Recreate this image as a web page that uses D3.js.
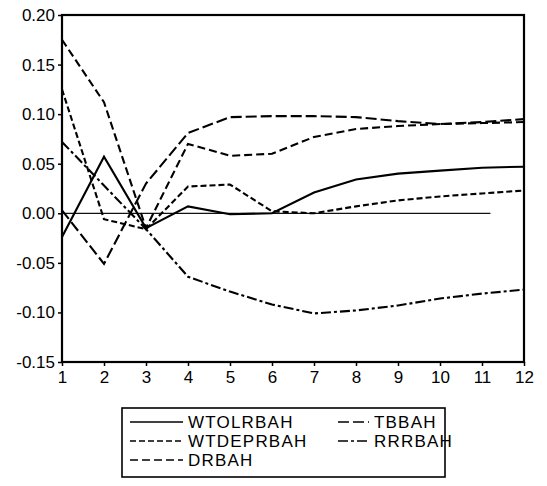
<!DOCTYPE html>
<html>
<head>
<meta charset="utf-8">
<script src="https://cdn.jsdelivr.net/npm/d3@7"></script>
<style>
    body { margin: 0; background: #fff; }
    svg { display: block; }
    .axis text { font-family: "Liberation Sans", Arial, sans-serif; font-size: 17px; fill: #000; }
    .axis path, .axis line { stroke: #000; stroke-width: 1.5; }
</style>
</head>
<body>
<div id="chart"></div>
<script>
// periods on the x axis
const periods = [1, 2, 3, 4, 5, 6, 7, 8, 9, 10, 11, 12];
const yTicks = [-0.15, -0.10, -0.05, 0.00, 0.05, 0.10, 0.15, 0.20];

// responses
const wtolrbah = [-0.024, 0.057, -0.015, 0.007, -0.001, 0.000, 0.021, 0.034, 0.040, 0.043, 0.046, 0.047];
const tbbah = [0.003, -0.051, 0.030, 0.081, 0.097, 0.098, 0.098, 0.097, 0.093, 0.090, 0.092, 0.095];
const wtdeprbah = [0.125, -0.006, -0.016, 0.027, 0.029, 0.002, 0.000, 0.007, 0.013, 0.017, 0.020, 0.023];
const rrrbah = [0.072, 0.028, -0.016, -0.064, -0.079, -0.092, -0.101, -0.098, -0.093, -0.086, -0.081, -0.077];
const drbah = [0.175, 0.112, -0.015, 0.070, 0.058, 0.060, 0.077, 0.085, 0.088, 0.090, 0.091, 0.092];

const names = ["WTOLRBAH", "TBBAH", "WTDEPRBAH", "RRRBAH", "DRBAH"];
const values = [wtolrbah, tbbah, wtdeprbah, rrrbah, drbah];
const dashes = ["none", "11,4", "6,3", "10,3,3,3", "8,4"];

const width = 547;
const height = 486;
const margin = { top: 15, right: 23, bottom: 124, left: 62 };

const svg = d3.select('#chart')
    .append('svg')
    .attr('width', width)
    .attr('height', height);

const xScale = d3.scaleLinear()
    .domain([1, 12])
    .range([margin.left, width - margin.right]);
const yScale = d3.scaleLinear()
    .domain([-0.15, 0.20])
    .range([height - margin.bottom, margin.top]);

const fmt = d => d3.format('.2f')(d).replace('\u2212', '-');

const xAxis = d3.axisBottom(xScale)
    .tickValues(periods)
    .tickFormat(d3.format('d'))
    .tickSize(4)
    .tickPadding(5);
svg.append('g')
    .classed('x axis', true)
    .attr('transform', `translate(0,${height - margin.bottom})`)
    .call(xAxis);

const yAxis = d3.axisLeft(yScale)
    .tickValues(yTicks)
    .tickFormat(fmt)
    .tickSize(4)
    .tickPadding(3);
svg.append('g')
    .classed('y axis', true)
    .attr('transform', `translate(${margin.left},0)`)
    .call(yAxis);

svg.selectAll('.axis .domain').remove();

// frame
svg.append('rect')
    .attr('x', margin.left)
    .attr('y', margin.top)
    .attr('width', width - margin.left - margin.right)
    .attr('height', height - margin.top - margin.bottom)
    .attr('fill', 'none')
    .attr('stroke', '#000')
    .attr('stroke-width', 2.2);

// zero line, stops short of the last period in the picture
svg.append('line')
    .attr('x1', xScale(1))
    .attr('x2', xScale(11.2))
    .attr('y1', yScale(0))
    .attr('y2', yScale(0))
    .attr('stroke', '#111')
    .attr('stroke-width', 1.3);

const line = d3.line()
    .x((d, i) => xScale(periods[i]))
    .y(d => yScale(d));

svg.selectAll('.series')
    .data(values)
    .enter()
    .append('path')
    .classed('series', true)
    .attr('d', d => line(d))
    .attr('fill', 'none')
    .attr('stroke', '#000')
    .attr('stroke-width', 2.1)
    .attr('stroke-dasharray', (d, i) => dashes[i]);

// legend
const legend = svg.append('g');
legend.append('rect')
    .attr('x', 122)
    .attr('y', 408)
    .attr('width', 323)
    .attr('height', 69)
    .attr('fill', 'none')
    .attr('stroke', '#000')
    .attr('stroke-width', 1.6);

const slots = [
    { x: 130, y: 422 }, { x: 338, y: 422 },
    { x: 130, y: 441 }, { x: 338, y: 441 },
    { x: 130, y: 460 }
];

names.forEach((name, i) => {
    const s = slots[i];
    const len = i % 2 === 0 ? 53 : 31;
    legend.append('line')
        .attr('x1', s.x)
        .attr('x2', s.x + len)
        .attr('y1', s.y)
        .attr('y2', s.y)
        .attr('stroke', '#000')
        .attr('stroke-width', 1.7)
        .attr('stroke-dasharray', dashes[i]);
    legend.append('text')
        .attr('x', s.x + len + 5)
        .attr('y', s.y)
        .attr('dy', '0.36em')
        .style('font-family', '"Liberation Sans", Arial, sans-serif')
        .style('font-size', '17px')
        .style('letter-spacing', '1.2px')
        .attr('fill', '#000')
        .text(name);
});
</script>
</body>
</html>
